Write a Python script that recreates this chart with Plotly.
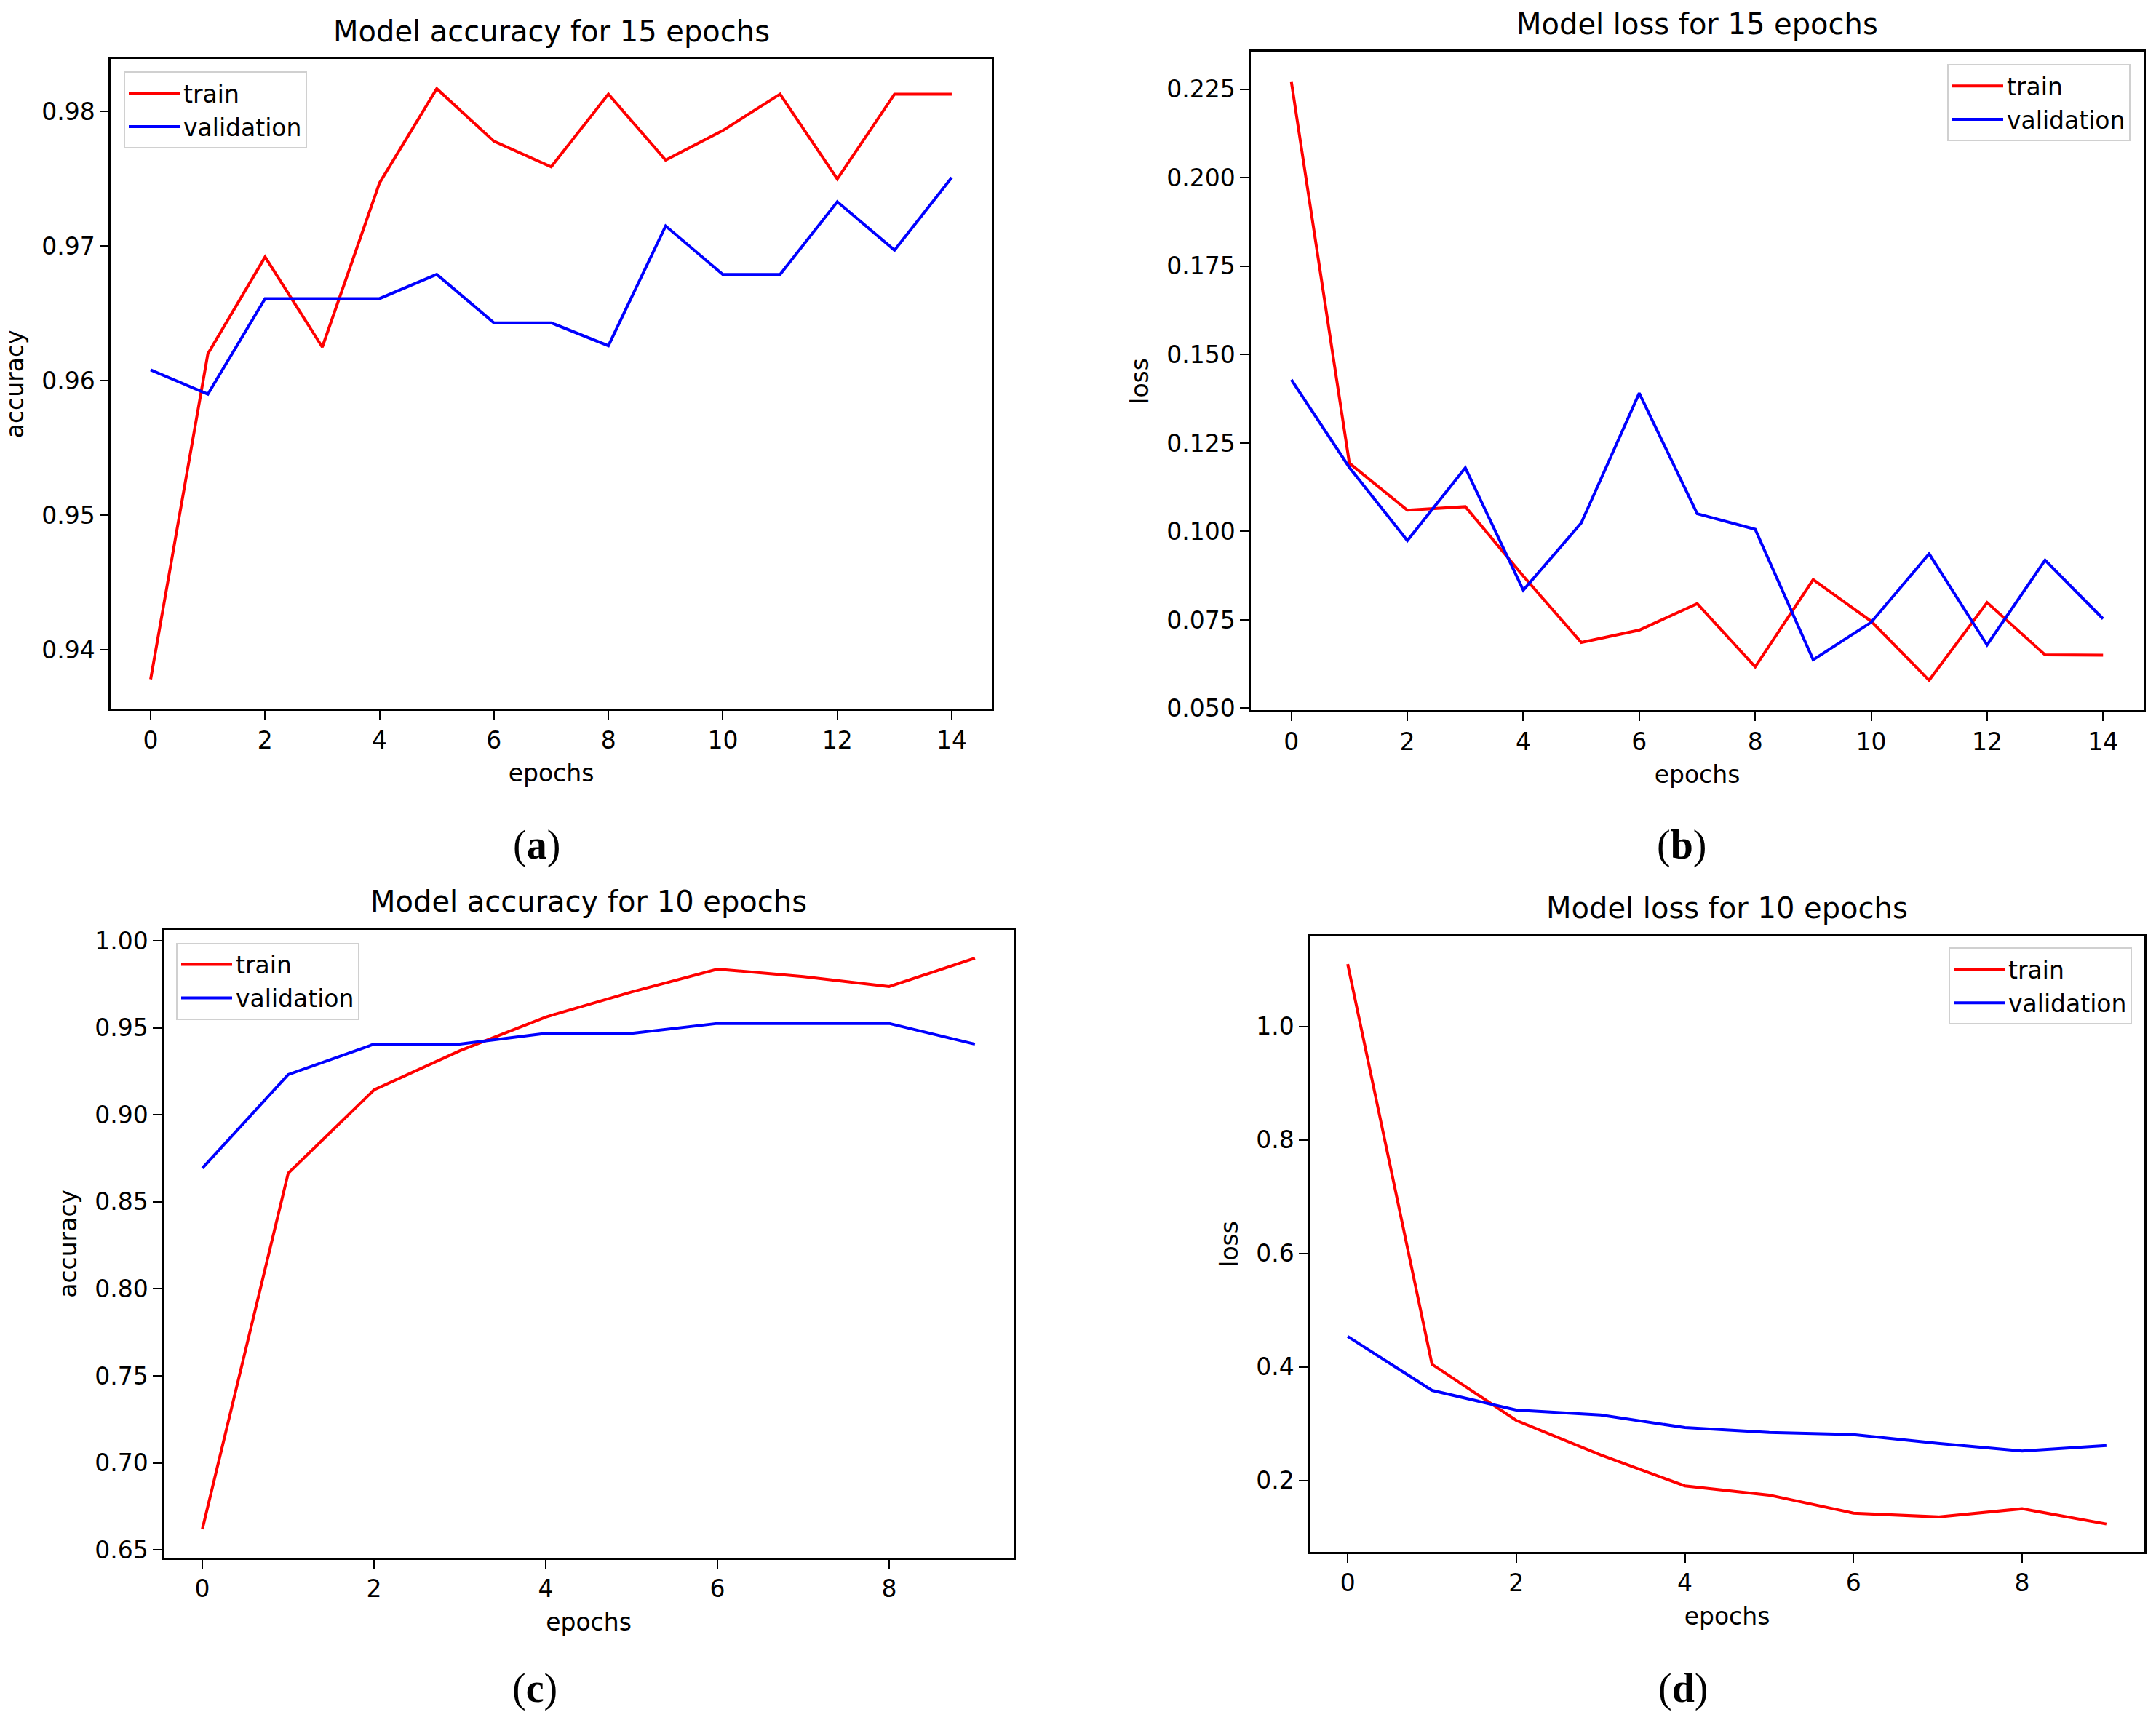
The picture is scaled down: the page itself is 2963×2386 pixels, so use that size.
import plotly.graph_objects as go

# ---- data ----
epochs15 = list(range(15))
acc15_train = [0.9378, 0.9620, 0.9692, 0.9625, 0.9747, 0.9817, 0.9778, 0.9759,
               0.9813, 0.9764, 0.9786, 0.9813, 0.9750, 0.9813, 0.9813]
acc15_val = [0.9608, 0.9590, 0.9661, 0.9661, 0.9661, 0.9679, 0.9643, 0.9643,
             0.9626, 0.9715, 0.9679, 0.9679, 0.9733, 0.9697, 0.9751]
loss15_train = [0.2271, 0.1193, 0.1060, 0.1070, 0.0874, 0.0686, 0.0721, 0.0796,
                0.0617, 0.0864, 0.0746, 0.0579, 0.0799, 0.0651, 0.0650]
loss15_val = [0.1429, 0.1181, 0.0974, 0.1180, 0.0834, 0.1024, 0.1391, 0.1050,
              0.1006, 0.0637, 0.0743, 0.0937, 0.0679, 0.0919, 0.0753]

epochs10 = list(range(10))
acc10_train = [0.6619, 0.8664, 0.9143, 0.9368, 0.9562, 0.9706, 0.9837, 0.9794, 0.9737, 0.9900]
acc10_val = [0.8693, 0.9231, 0.9406, 0.9406, 0.9468, 0.9468, 0.9525, 0.9525, 0.9525, 0.9406]
loss10_train = [1.1095, 0.4046, 0.3057, 0.2451, 0.1904, 0.1741, 0.1424, 0.1357, 0.1501, 0.1232]
loss10_val = [0.4535, 0.3585, 0.3239, 0.3152, 0.2932, 0.2845, 0.2807, 0.2653, 0.2519, 0.2615]

titles = ["Model accuracy for 15 epochs", "Model loss for 15 epochs",
          "Model accuracy for 10 epochs", "Model loss for 10 epochs"]
ylabels = ["accuracy", "loss", "accuracy", "loss"]
panel_tags = ["a", "b", "c", "d"]

W, H = 2963, 2386
FONT = "DejaVu Sans"


def px_x(p):
    return p / W


def px_y(p):
    return 1 - p / H


# plot boxes in page pixels: left, right, top, bottom
boxes = [(152, 1363, 78, 979), (1719, 2946, 68, 981),
         (225, 1393, 1285, 2156), (1800, 2947, 1294, 2148)]

panels = [
    (epochs15, acc15_train, acc15_val, [0.9356, 0.9839], dict(dtick=0.01, tick0=0.94, tickformat=".2f"), [-0.7, 14.7]),
    (epochs15, loss15_train, loss15_val, [0.0494, 0.2356], dict(dtick=0.025, tick0=0.05, tickformat=".3f"), [-0.7, 14.7]),
    (epochs10, acc10_train, acc10_val, [0.6455, 1.0064], dict(dtick=0.05, tick0=0.65, tickformat=".2f"), [-0.45, 9.45]),
    (epochs10, loss10_train, loss10_val, [0.0739, 1.1588], dict(dtick=0.2, tick0=0.2, tickformat=".1f"), [-0.45, 9.45]),
]

legend_pos = [dict(x=px_x(170), y=px_y(95), xanchor="left"),
              dict(x=px_x(2928), y=px_y(85), xanchor="right"),
              dict(x=px_x(242), y=px_y(1303), xanchor="left"),
              dict(x=px_x(2930), y=px_y(1310), xanchor="right")]

fig = go.Figure()
layout = dict(width=W, height=H, margin=dict(l=0, r=0, t=0, b=0),
              paper_bgcolor="white", plot_bgcolor="white",
              font=dict(family=FONT, size=33, color="black"))
annotations = []

for i, (ep, tr, va, yr, ytk, xr) in enumerate(panels):
    n = "" if i == 0 else str(i + 1)
    leg = "legend" if i == 0 else "legend" + str(i + 1)
    fig.add_trace(go.Scatter(x=ep, y=tr, mode="lines", name="train",
                             line=dict(color="#ff0000", width=4),
                             xaxis="x" + n, yaxis="y" + n, legend=leg))
    fig.add_trace(go.Scatter(x=ep, y=va, mode="lines", name="validation",
                             line=dict(color="#0000ff", width=4),
                             xaxis="x" + n, yaxis="y" + n, legend=leg))
    l, r, t, b = boxes[i]
    axis_common = dict(showgrid=False, zeroline=False, showline=True,
                       linecolor="black", linewidth=2.5, mirror=True,
                       ticks="outside", ticklen=12, tickwidth=2,
                       tickcolor="black", tickfont=dict(size=33))
    layout["xaxis" + n] = dict(axis_common, domain=[px_x(l), px_x(r)],
                               anchor="y" + n, range=xr, dtick=2, tick0=0,
                               title=dict(text="epochs", standoff=16,
                                          font=dict(size=33)))
    layout["yaxis" + n] = dict(axis_common, domain=[px_y(b), px_y(t)],
                               anchor="x" + n, range=yr, **ytk,
                               title=dict(text=ylabels[i], standoff=15,
                                          font=dict(size=33)))
    layout[leg] = dict(legend_pos[i], yanchor="top", bgcolor="rgba(255,255,255,0.8)",
                       bordercolor="#d0d0d0", borderwidth=2, itemwidth=70,
                       font=dict(size=33), tracegroupgap=0)
    annotations.append(dict(text=titles[i], x=px_x((l + r) / 2), y=px_y(t - 39),
                            xref="paper", yref="paper", showarrow=False,
                            xanchor="center", yanchor="middle",
                            font=dict(size=40, family=FONT)))

tag_pos = [(737, 1168), (2311, 1168), (735, 2337), (2313, 2337)]
for tag, (tx, ty) in zip(panel_tags, tag_pos):
    annotations.append(dict(text="(<b>" + tag + "</b>)", x=px_x(tx), y=px_y(ty),
                            xref="paper", yref="paper", showarrow=False,
                            xanchor="center", yanchor="middle",
                            font=dict(size=56, family="Liberation Serif")))

layout["annotations"] = annotations
fig.update_layout(**layout)

# drop the default page margin so the figure fills the window exactly
fig.write_html("out.html", config={"displayModeBar": False},
               post_script="document.body.style.margin='0';"
                           "document.body.style.overflow='hidden';")
